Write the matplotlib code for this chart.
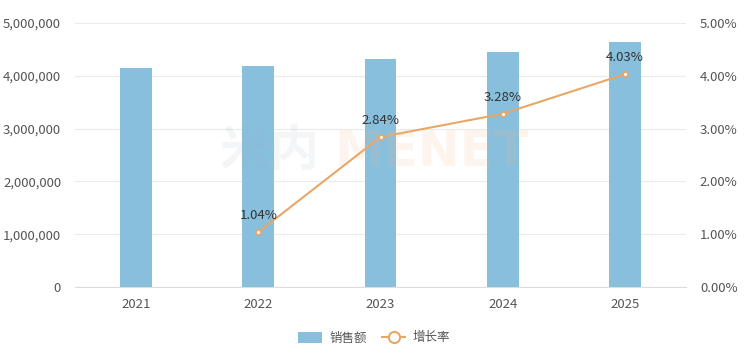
import numpy as np
import matplotlib.pyplot as plt
from matplotlib.lines import Line2D
from matplotlib.patches import Patch

plt.rcParams['font.family'] = ['Noto Sans CJK SC', 'DejaVu Sans']

years = ["2021", "2022", "2023", "2024", "2025"]
sales = [4150000, 4193160, 4312245, 4453686, 4633170]
growth = [np.nan, 1.04, 2.84, 3.28, 4.03]

bar_color = "#87BFDD"
line_color = "#E8A765"
text_color = "#555555"

fig = plt.figure(figsize=(7.44, 3.61), dpi=100)
ax = fig.add_axes([75 / 744, 1 - 287 / 361, 611 / 744, 264 / 361])
x = np.arange(len(years))

ax.bar(x, sales, width=0.26, color=bar_color, zorder=2)
ax.set_xlim(-0.5, len(years) - 0.5)
ax.set_ylim(0, 5000000)
ax.set_yticks(np.arange(0, 5000001, 1000000))
ax.set_yticklabels([f"{int(v):,}" for v in ax.get_yticks()])
ax.set_xticks(x)
ax.set_xticklabels(years)
ax.grid(axis="y", color="#EBEBEB", linewidth=0.8, zorder=0)
for s in ["top", "left", "right"]:
    ax.spines[s].set_visible(False)
ax.spines["bottom"].set_color("#DDDDDD")
ax.tick_params(axis="both", length=0, colors=text_color, labelsize=9.5)
ax.tick_params(axis="x", pad=8)
ax.tick_params(axis="y", pad=10)

ax2 = ax.twinx()
ax2.plot(x, growth, color=line_color, linewidth=1.5, marker="o", markersize=3.5,
         markerfacecolor="white", markeredgecolor=line_color, markeredgewidth=1.3, zorder=3)
for xi, g in zip(x, growth):
    if not np.isnan(g):
        ax2.annotate(f"{g:.2f}%", (xi, g), xytext=(0, 7), textcoords="offset points",
                     ha="center", va="bottom", fontsize=9.5, color="#333333")
ax2.set_ylim(0, 5)
ax2.set_yticks(np.arange(0, 5.01, 1))
ax2.set_yticklabels([f"{v:.2f}%" for v in np.arange(0, 5.01, 1)])
for s in ["top", "left", "right", "bottom"]:
    ax2.spines[s].set_visible(False)
ax2.tick_params(axis="y", length=0, colors=text_color, labelsize=9.5, pad=10)

# faint watermark behind the plot
fig.text(0.296, 1 - 152 / 361, "米内", fontsize=36, fontweight="bold", color="#9DB4C0",
         alpha=0.12, ha="left", va="center", zorder=0)
fig.text(0.45, 1 - 152 / 361, "MENET", fontsize=36, fontweight="bold", color="#F5B88A",
         family="DejaVu Sans", alpha=0.15, ha="left", va="center", zorder=0)

handles = [
    Patch(facecolor=bar_color, edgecolor="none"),
    Line2D([0], [0], color=line_color, linewidth=1.5, marker="o", markersize=8,
           markerfacecolor="white", markeredgecolor=line_color, markeredgewidth=1.5),
]
fig.legend(handles, ["销售额", "增长率"], loc="center", bbox_to_anchor=(0.503, 1 - 338 / 361),
           ncol=2, frameon=False, fontsize=9, labelcolor=text_color,
           handlelength=1.9, handleheight=1.0, columnspacing=1.2, handletextpad=0.6)

fig.savefig("out.png", dpi=100)
